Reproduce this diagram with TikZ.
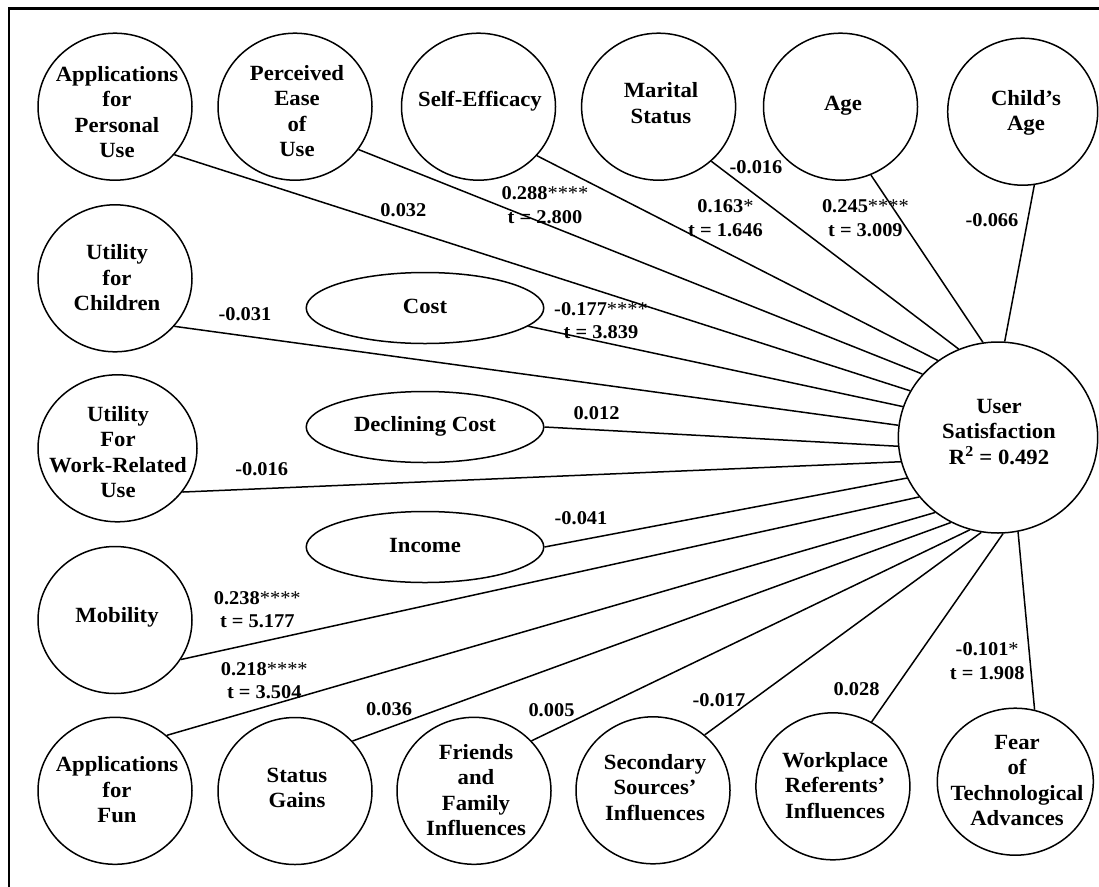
\documentclass[tikz,border=0pt]{standalone}
\usepackage{fontspec}
\setmainfont{Liberation Serif}[FakeStretch=1.047]
\usetikzlibrary{shapes.geometric}
\newcommand\myNodeFont{\fontsize{21.7}{25.5}\selectfont\bfseries}
\newcommand\myLblFont{\fontsize{19.5}{23.4}\selectfont\bfseries}
\newcommand\astr{{\mdseries *}}
\tikzset{
  var/.style={ellipse, draw, line width=1.5pt, minimum width=154pt, minimum height=147pt, inner sep=0pt},
  oval/.style={ellipse, draw, line width=1.5pt, minimum width=237.5pt, minimum height=71pt, inner sep=0pt},
  txt/.style={align=center, font=\myNodeFont, inner sep=0pt},
  lbl/.style={align=center, font=\myLblFont, inner sep=0pt},
  link/.style={line width=1.5pt},
  frame/.style={line width=2.4pt}
}
\begin{document}
\begin{tikzpicture}[x=1pt,y=-1pt]
\useasboundingbox (0,0) rectangle (1099,886);
\clip (0,0) rectangle (1099,886);
\draw[frame] (8.8,8.3) rectangle (1130,920);

% top row
\node[var] (apu) at (115,106.7) {};
\node[txt] (apuT) at (117,112) {Applications\\for\\Personal\\Use};
\node[var] (peu) at (295,106.7) {};
\node[txt] (peuT) at (297,111) {Perceived\\Ease\\of\\Use};
\node[var] (se) at (478.5,106.7) {};
\node[txt] (seT) at (480,101) {Self-Efficacy};
\node[var] (ms) at (658.6,106.7) {};
\node[txt] (msT) at (661,103) {Marital\\Status};
\node[var] (age) at (840.5,106.7) {};
\node[txt] (ageT) at (843,106) {Age};
\node[var, minimum width=150pt] (cage) at (1022.7,111.7) {};
\node[txt] (cageT) at (1026,113) {Child’s\\Age};

% left column
\node[var] (ufc) at (115,278.3) {};
\node[txt] (ufcT) at (117,278) {Utility\\for\\Children};
\node[var, minimum width=159pt] (uw) at (117.5,448.3) {};
\node[txt] (uwT) at (118,452) {Utility\\For\\Work-Related\\Use};
\node[var] (mob) at (115,620) {};
\node[txt] (mobT) at (117,617) {Mobility};

% bottom row
\node[var] (fun) at (115,790.8) {};
\node[txt] (funT) at (117,790) {Applications\\for\\Fun};
\node[var] (sg) at (295,791) {};
\node[txt] (sgT) at (297,788) {Status\\Gains};
\node[var] (ff) at (474,790.8) {};
\node[txt] (ffT) at (476,790) {Friends\\and\\Family\\Influences};
\node[var] (ss) at (653,790.3) {};
\node[txt] (ssT) at (655,787.5) {Secondary\\Sources’\\Influences};
\node[var] (wr) at (832.9,786.3) {};
\node[txt] (wrT) at (835,785.5) {Workplace\\Referents’\\Influences};
\node[var, minimum width=156pt] (fear) at (1015.3,781.7) {};
\node[txt] (fearT) at (1017,780.5) {Fear\\of\\Technological\\Advances};

% ovals
\node[oval] (cost) at (425,308) {};
\node[txt] (costT) at (425,306) {Cost};
\node[oval] (dcost) at (425,427) {};
\node[txt] (dcostT) at (425,426) {Declining Cost};
\node[oval] (inc) at (425,547) {};
\node[txt] (incT) at (425,545) {Income};

% outcome
\node[ellipse, draw, line width=1.5pt, minimum width=199.4pt, minimum height=191pt, inner sep=0pt] (us) at (998,437.5) {};
\node[txt] (usT) at (999,432) {User\\Satisfaction\\R\textsuperscript{2} = 0.492};

% connectors
\draw[link] (apu.-39.6) -- (us.152.3);
\draw[link] (peu.-34.4) -- (us.140.5);
\draw[link] (se.-40.9) -- (us.128.6);
\draw[link] (ms.-46.6) -- (us.114.5);
\draw[link] (age.-66.5) -- (us.99.6);
\draw[link] (cage.-81.3) -- (us.86.3);
\draw[link] (cost.-10.3) -- (us.162.9);
\draw[link] (ufc.-39.2) -- (us.173.8);
\draw[link] (dcost.0) -- (us.185.3);
\draw[link] (uw.-34.1) -- (us.194.8);
\draw[link] (inc.0) -- (us.204.4);
\draw[link] (mob.-31.1) -- (us.217.3);
\draw[link] (fun.47.7) -- (us.230.4);
\draw[link] (sg.41) -- (us.241.1);
\draw[link] (ff.41.2) -- (us.253.3);
\draw[link] (ss.47.1) -- (us.260.3);
\draw[link] (wr.59.8) -- (us.273.1);
\draw[link] (fear.75) -- (us.282);

% coefficient labels
\node[lbl] (l1) at (403.4,210) {0.032};
\node[lbl] (l2) at (545,205) {0.288\astr\astr\astr\astr\\t = 2.800};
\node[lbl] (l3) at (756,166.7) {-0.016};
\node[lbl] (l4) at (725.5,218.3) {0.163\astr\\t = 1.646};
\node[lbl] (l5) at (865.4,218.3) {0.245\astr\astr\astr\astr\\t = 3.009};
\node[lbl] (l6) at (992,220) {-0.066};
\node[lbl] (l7) at (245,314.3) {-0.031};
\node[lbl] (l8) at (601,320.5) {-0.177\astr\astr\astr\astr\\t = 3.839};
\node[lbl] (l9) at (596.5,413.3) {0.012};
\node[lbl] (l10) at (261.7,469) {-0.016};
\node[lbl] (l11) at (581,518.3) {-0.041};
\node[lbl] (l12) at (257.3,609.5) {0.238\astr\astr\astr\astr\\t = 5.177};
\node[lbl] (l13) at (264.3,680.8) {0.218\astr\astr\astr\astr\\t = 3.504};
\node[lbl] (l14) at (389,709) {0.036};
\node[lbl] (l15) at (551.5,710) {0.005};
\node[lbl] (l16) at (719,700) {-0.017};
\node[lbl] (l17) at (856.5,689.3) {0.028};
\node[lbl] (l18) at (987.2,661.3) {-0.101\astr\\t = 1.908};
\end{tikzpicture}
\end{document}
